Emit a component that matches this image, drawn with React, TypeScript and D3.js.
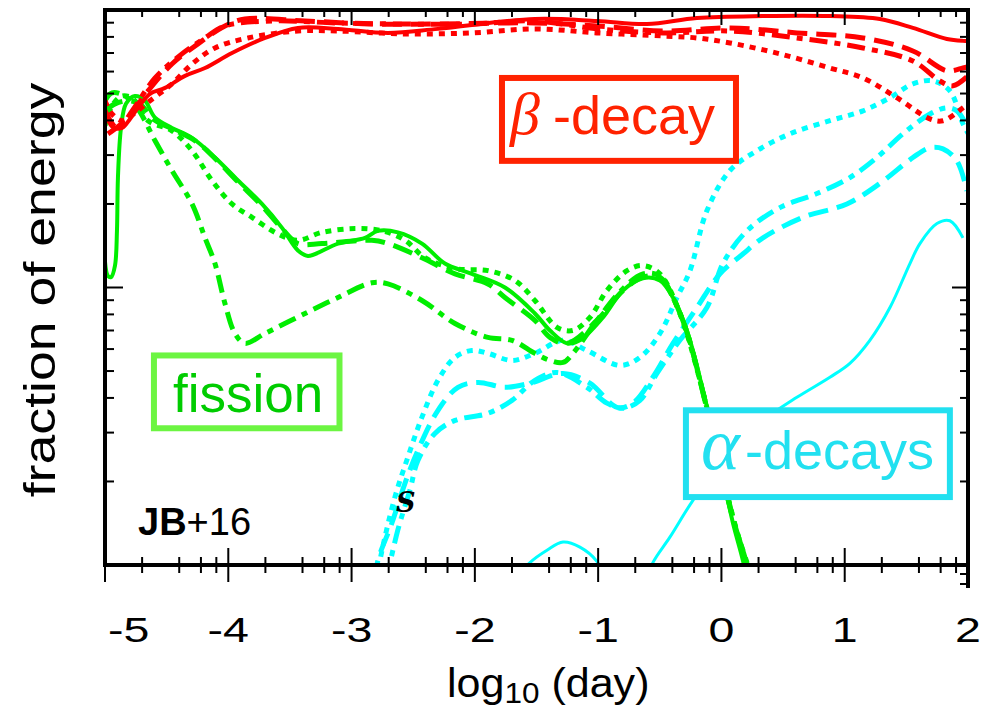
import React from 'react';
import * as d3 from 'd3';

const W = 983;
const H = 709;
const PLOT = { left: 105, right: 968, top: 10, bottom: 565 };

const X_DOMAIN = [-5, 2];
const Y_DOMAIN = [0.01, 1];
const X_MAJOR = [-5, -4, -3, -2, -1, 0, 1, 2];
const X_LABELS = ['-5', '-4', '-3', '-2', '-1', '0', '1', '2'];
const MINOR_MULT = [2, 4, 6, 8];
const Y_DECADES = [0.01, 0.1];
const Y_MAJOR_INNER = [0.1];

const RED = '#ff0000';
const GREEN = '#00ee00';
const CYAN = '#00ffff';

// [log10(day), fraction of energy]
const betaSolid = [
  [-4.98, 0.405], [-4.935, 0.378], [-4.862, 0.376], [-4.797, 0.405], [-4.716, 0.455],
  [-4.635, 0.499], [-4.513, 0.524], [-4.351, 0.579], [-4.189, 0.618], [-3.97, 0.7],
  [-3.702, 0.793], [-3.435, 0.862], [-3.11, 0.855], [-2.705, 0.827], [-2.299, 0.855],
  [-1.513, 0.928], [-1.01, 0.913], [-0.604, 0.89], [-0.199, 0.936], [0.337, 0.951],
  [0.88, 0.951], [1.285, 0.928], [1.553, 0.862], [1.829, 0.786], [1.959, 0.774], [2.0, 0.774],
];
const betaDashed = [
  [-4.976, 0.358], [-4.838, 0.399], [-4.651, 0.511], [-4.457, 0.639], [-4.246, 0.755],
  [-4.027, 0.876], [-3.865, 0.928], [-3.378, 0.913], [-2.835, 0.89], [-2.299, 0.89],
  [-1.513, 0.898], [-1.01, 0.876], [-0.474, 0.84], [0.069, 0.862], [0.612, 0.827],
  [1.148, 0.793], [1.553, 0.712], [1.829, 0.604], [1.959, 0.618], [2.0, 0.625],
];
const betaDotted = [
  [-5.0, 0.471], [-4.943, 0.422], [-4.862, 0.399], [-4.757, 0.426], [-4.635, 0.471],
  [-4.457, 0.542], [-4.294, 0.639], [-4.108, 0.73], [-3.84, 0.793], [-3.435, 0.84],
  [-3.11, 0.84], [-2.567, 0.82], [-2.024, 0.827], [-1.513, 0.855], [-1.01, 0.827],
  [-0.474, 0.806], [-0.199, 0.793], [0.069, 0.761], [0.474, 0.695], [0.88, 0.618],
  [1.148, 0.569], [1.423, 0.483], [1.691, 0.405], [1.797, 0.399], [1.959, 0.444], [2.0, 0.46],
];
const betaDashDot = [
  [-5.0, 0.433], [-4.895, 0.373], [-4.78, 0.433], [-4.594, 0.569], [-4.376, 0.695],
  [-4.189, 0.793], [-4.027, 0.876], [-3.646, 0.913], [-3.11, 0.898], [-2.567, 0.89],
  [-2.024, 0.89], [-1.513, 0.913], [-1.01, 0.855], [-0.474, 0.827], [0.069, 0.84],
  [0.612, 0.793], [1.148, 0.73], [1.553, 0.655], [1.772, 0.555], [1.878, 0.533], [2.0, 0.579],
];

const fissionSolid = [
  [-5.0, 0.124], [-4.976, 0.11], [-4.951, 0.109], [-4.919, 0.12], [-4.903, 0.16],
  [-4.895, 0.249], [-4.87, 0.376], [-4.83, 0.459], [-4.757, 0.49], [-4.676, 0.471],
  [-4.594, 0.409], [-4.457, 0.376], [-4.294, 0.346], [-4.108, 0.294], [-3.921, 0.243],
  [-3.727, 0.2], [-3.564, 0.164], [-3.435, 0.136], [-3.354, 0.13], [-3.11, 0.144],
  [-2.891, 0.151], [-2.786, 0.16], [-2.624, 0.158], [-2.429, 0.144], [-2.243, 0.122],
  [-2.024, 0.112], [-1.756, 0.1], [-1.513, 0.0806], [-1.391, 0.07], [-1.253, 0.0629],
  [-1.148, 0.0645], [-0.961, 0.078], [-0.799, 0.0975], [-0.637, 0.108], [-0.499, 0.106],
  [-0.393, 0.092], [-0.28, 0.07], [-0.15, 0.0426], [-0.012, 0.0233], [0.093, 0.0142],
  [0.174, 0.0104], [0.23, 0.0079],
];
const fissionDotted = [
  [-5.0, 0.383], [-4.943, 0.452], [-4.862, 0.49], [-4.773, 0.479], [-4.651, 0.399],
  [-4.457, 0.367], [-4.294, 0.311], [-4.132, 0.243], [-3.97, 0.2], [-3.808, 0.179],
  [-3.597, 0.156], [-3.435, 0.148], [-3.24, 0.158], [-2.972, 0.163], [-2.753, 0.16],
  [-2.567, 0.148], [-2.405, 0.128], [-2.161, 0.117], [-1.894, 0.115], [-1.675, 0.106],
  [-1.513, 0.0898], [-1.334, 0.0718], [-1.204, 0.07], [-1.067, 0.078], [-0.929, 0.0975],
  [-0.766, 0.115], [-0.637, 0.12], [-0.499, 0.112], [-0.337, 0.0806], [-0.15, 0.042],
  [-0.012, 0.023], [0.11, 0.014], [0.199, 0.0102], [0.25, 0.0079],
];
const fissionDashed = [
  [-5.0, 0.433], [-4.919, 0.459], [-4.813, 0.471], [-4.716, 0.459], [-4.61, 0.405],
  [-4.457, 0.373], [-4.27, 0.338], [-4.108, 0.292], [-3.921, 0.24], [-3.727, 0.197],
  [-3.564, 0.163], [-3.435, 0.144], [-3.24, 0.144], [-2.835, 0.148], [-2.705, 0.144],
  [-2.429, 0.128], [-2.161, 0.112], [-1.894, 0.103], [-1.756, 0.092], [-1.513, 0.0761],
  [-1.391, 0.0661], [-1.253, 0.0629], [-1.01, 0.0761], [-0.799, 0.0975], [-0.637, 0.109],
  [-0.499, 0.109], [-0.393, 0.092], [-0.28, 0.069], [-0.15, 0.042], [-0.012, 0.023],
  [0.11, 0.0139], [0.207, 0.01], [0.25, 0.0079],
];
const fissionDashDot = [
  [-5.0, 0.471], [-4.943, 0.503], [-4.838, 0.49], [-4.733, 0.44], [-4.594, 0.338],
  [-4.457, 0.264], [-4.294, 0.2], [-4.189, 0.151], [-4.108, 0.122], [-4.027, 0.0876],
  [-3.946, 0.0683], [-3.865, 0.0629], [-3.702, 0.0683], [-3.378, 0.0806], [-3.11, 0.092],
  [-2.835, 0.104], [-2.705, 0.103], [-2.429, 0.0898], [-2.161, 0.0742], [-1.894, 0.0661],
  [-1.699, 0.0645], [-1.513, 0.0579], [-1.391, 0.0546], [-1.285, 0.0537], [-1.204, 0.0579],
  [-1.01, 0.0761], [-0.799, 0.099], [-0.637, 0.112], [-0.499, 0.11], [-0.393, 0.092],
  [-0.28, 0.069], [-0.15, 0.0418], [-0.012, 0.0228], [0.11, 0.0138], [0.215, 0.0099], [0.26, 0.0079],
];

const alphaSolidLow = [
  [-1.675, 0.0088], [-1.553, 0.0102], [-1.415, 0.0113], [-1.285, 0.0121],
  [-1.148, 0.0116], [-1.01, 0.0103], [-0.945, 0.0088],
];
const alphaSolid = [
  [-0.62, 0.0085], [-0.556, 0.0102], [-0.418, 0.0126], [-0.231, 0.0171], [0.069, 0.0259],
  [0.337, 0.0332], [0.612, 0.0402], [0.88, 0.0475], [1.042, 0.0533], [1.204, 0.0645],
  [1.367, 0.0847], [1.529, 0.122], [1.61, 0.144], [1.748, 0.17], [1.853, 0.174], [1.959, 0.151],
];
const alphaDotted = [
  [-2.8, 0.0088], [-2.753, 0.0113], [-2.648, 0.0176], [-2.543, 0.0245], [-2.429, 0.0341],
  [-2.299, 0.0463], [-2.161, 0.056], [-2.024, 0.0593], [-1.894, 0.0579], [-1.699, 0.0546],
  [-1.513, 0.0579], [-1.285, 0.0645], [-1.091, 0.0593], [-0.823, 0.0524], [-0.661, 0.056],
  [-0.499, 0.0683], [-0.361, 0.092], [-0.255, 0.115], [-0.118, 0.189], [0.069, 0.264],
  [0.288, 0.311], [0.556, 0.358], [0.88, 0.399], [1.148, 0.433], [1.367, 0.483],
  [1.553, 0.542], [1.715, 0.555], [1.853, 0.511], [1.959, 0.389], [2.0, 0.36],
];
const alphaDashed = [
  [-2.81, 0.0088], [-2.786, 0.0104], [-2.672, 0.0142], [-2.567, 0.0197], [-2.462, 0.0259],
  [-2.299, 0.0361], [-2.137, 0.0437], [-1.975, 0.0455], [-1.756, 0.0437], [-1.553, 0.0452],
  [-1.285, 0.049], [-1.067, 0.0452], [-0.847, 0.037], [-0.718, 0.0383], [-0.556, 0.0475],
  [-0.393, 0.0629], [-0.199, 0.0847], [-0.012, 0.112], [0.174, 0.132], [0.337, 0.151],
  [0.661, 0.179], [1.018, 0.2], [1.285, 0.237], [1.553, 0.294], [1.691, 0.319],
  [1.797, 0.316], [1.91, 0.286], [1.991, 0.223],
];
const alphaDashDot = [
  [-2.72, 0.0088], [-2.624, 0.0134], [-2.527, 0.0186], [-2.462, 0.0238], [-2.324, 0.0298],
  [-2.161, 0.0332], [-1.894, 0.0352], [-1.699, 0.0392], [-1.513, 0.0463], [-1.334, 0.0494],
  [-1.091, 0.0437], [-0.929, 0.0383], [-0.799, 0.0367], [-0.661, 0.0392], [-0.523, 0.049],
  [-0.337, 0.0645], [-0.118, 0.0847], [0.012, 0.122], [0.207, 0.16], [0.474, 0.194],
  [0.775, 0.218], [1.042, 0.249], [1.261, 0.294], [1.472, 0.358], [1.691, 0.422],
  [1.829, 0.444], [1.91, 0.433], [1.991, 0.383],
];

const DASH: Record<string, string | undefined> = {
  solid: undefined,
  dashed: '20 9',
  dotted: '6 6',
  dashdot: '18 7 6 7',
};

const SERIES = [
  { pts: alphaSolidLow, color: CYAN, style: 'solid', w: 3 },
  { pts: alphaSolid, color: CYAN, style: 'solid', w: 3 },
  { pts: alphaDotted, color: CYAN, style: 'dotted', w: 5 },
  { pts: alphaDashed, color: CYAN, style: 'dashed', w: 5 },
  { pts: alphaDashDot, color: CYAN, style: 'dashdot', w: 5 },
  { pts: fissionDashDot, color: GREEN, style: 'dashdot', w: 5 },
  { pts: fissionDashed, color: GREEN, style: 'dashed', w: 5 },
  { pts: fissionDotted, color: GREEN, style: 'dotted', w: 5 },
  { pts: fissionSolid, color: GREEN, style: 'solid', w: 4 },
  { pts: betaDashDot, color: RED, style: 'dashdot', w: 5 },
  { pts: betaDashed, color: RED, style: 'dashed', w: 5 },
  { pts: betaDotted, color: RED, style: 'dotted', w: 5 },
  { pts: betaSolid, color: RED, style: 'solid', w: 4 },
];

// label boxes in data units: [x0, x1] log10(day), [yTop, yBottom] fraction
const BETA_BOX = { x0: -1.78, x1: 0.118, yt: 0.569, yb: 0.286 };
const FISSION_BOX = { x0: -4.603, x1: -3.098, yt: 0.0569, yb: 0.0311 };
const ALPHA_BOX = { x0: -0.288, x1: 1.853, yt: 0.0361, yb: 0.01757 };
const JB_POS = [-4.732, 0.0128];
const S_POS = [-2.64, 0.0155];

const SANS = '"Liberation Sans", Arial, Helvetica, sans-serif';
const SERIF = '"DejaVu Serif", "Liberation Serif", serif';

export default function App() {
  const x = d3.scaleLinear().domain(X_DOMAIN).range([PLOT.left, PLOT.right]);
  const y = d3.scaleLog().domain(Y_DOMAIN).range([PLOT.bottom, PLOT.top]);
  const line = d3
    .line<number[]>()
    .x((d) => x(d[0]))
    .y((d) => y(d[1]))
    .curve(d3.curveCatmullRom.alpha(0.5));

  const xMinor: number[] = [];
  X_MAJOR.slice(0, -1).forEach((v) => MINOR_MULT.forEach((m) => xMinor.push(v + Math.log10(m))));
  const yMinor: number[] = [];
  Y_DECADES.forEach((d) => d3.range(2, 10).forEach((k) => yMinor.push(d * k)));

  const box = (b: typeof BETA_BOX) => ({
    x: x(b.x0),
    y: y(b.yt),
    w: x(b.x1) - x(b.x0),
    h: y(b.yb) - y(b.yt),
  });
  const bb = box(BETA_BOX);
  const fb = box(FISSION_BOX);
  const ab = box(ALPHA_BOX);

  return (
    <svg
      width={W}
      height={H}
      style={{ position: 'absolute', left: 0, top: 0, background: '#fff' }}
      fontFamily={SANS}
    >
      <defs>
        <clipPath id="plotClip">
          <rect x={PLOT.left} y={PLOT.top} width={PLOT.right - PLOT.left} height={PLOT.bottom - PLOT.top} />
        </clipPath>
      </defs>

      <g clipPath="url(#plotClip)">
        {SERIES.map((s, i) => (
          <path
            key={i}
            d={line(s.pts) || ''}
            fill="none"
            stroke={s.color}
            strokeWidth={s.w}
            strokeDasharray={DASH[s.style]}
            strokeLinejoin="round"
          />
        ))}
      </g>

      {/* label boxes */}
      <rect x={bb.x} y={bb.y} width={bb.w} height={bb.h} fill="#fff" stroke="#ff2200" strokeWidth={6} />
      <text x={bb.x + 8} y={bb.y + 56} fill="#ff2200" fontFamily="Liberation Serif, serif" fontStyle="italic" fontSize={60}>β</text>
      <text x={bb.x + 51} y={bb.y + 56} fill="#ff2200" fontSize={54}>-decay</text>

      <rect x={fb.x} y={fb.y} width={fb.w} height={fb.h} fill="#fff" stroke="#6cf542" strokeWidth={6} />
      <text x={fb.x + 19} y={fb.y + 57} fill="#00cc00" fontSize={53}>fission</text>

      <rect x={ab.x} y={ab.y} width={ab.w} height={ab.h} fill="#fff" stroke="#22e0f0" strokeWidth={6} />
      <text x={ab.x + 15} y={ab.y + 59} fill="#22e0f0" fontFamily="Liberation Serif, serif" fontStyle="italic" fontSize={74}>α</text>
      <text x={ab.x + 59} y={ab.y + 59} fill="#22e0f0" fontSize={54}>-decays</text>

      <text x={x(JB_POS[0])} y={y(JB_POS[1])} fontSize={38} fill="#000">
        <tspan fontWeight="bold">JB</tspan>
        <tspan>+16</tspan>
      </text>
      <text x={x(S_POS[0])} y={y(S_POS[1])} fontSize={27} fontWeight="bold" fontStyle="italic" fontFamily={SERIF} fill="#000">S</text>

      {/* ticks */}
      <g stroke="#000" strokeWidth={2}>
        {X_MAJOR.map((v) => (
          <g key={'xm' + v}>
            <line x1={x(v)} x2={x(v)} y1={PLOT.bottom - 17} y2={PLOT.bottom + 17} />
            <line x1={x(v)} x2={x(v)} y1={PLOT.top} y2={PLOT.top + 15} />
          </g>
        ))}
        {xMinor.map((v) => (
          <g key={'xn' + v}>
            <line x1={x(v)} x2={x(v)} y1={PLOT.bottom - 8} y2={PLOT.bottom + 8} />
            <line x1={x(v)} x2={x(v)} y1={PLOT.top} y2={PLOT.top + 7} />
          </g>
        ))}
        {Y_MAJOR_INNER.map((v) => (
          <g key={'ym' + v}>
            <line x1={PLOT.left} x2={PLOT.left + 18} y1={y(v)} y2={y(v)} />
            <line x1={PLOT.right - 16} x2={PLOT.right} y1={y(v)} y2={y(v)} />
          </g>
        ))}
        {yMinor.map((v) => (
          <g key={'yn' + v}>
            <line x1={PLOT.left} x2={PLOT.left + 9} y1={y(v)} y2={y(v)} />
            <line x1={PLOT.right - 8} x2={PLOT.right} y1={y(v)} y2={y(v)} />
          </g>
        ))}
        {/* right axis runs a little past the bottom edge */}
        <line x1={PLOT.right} x2={PLOT.right} y1={PLOT.bottom} y2={PLOT.bottom + 23} strokeWidth={4} />
        <line x1={PLOT.right - 8} x2={PLOT.right} y1={PLOT.bottom + 9} y2={PLOT.bottom + 9} />
        <line x1={PLOT.right - 8} x2={PLOT.right} y1={PLOT.bottom + 19} y2={PLOT.bottom + 19} />
      </g>

      {/* frame */}
      <rect
        x={PLOT.left}
        y={PLOT.top}
        width={PLOT.right - PLOT.left}
        height={PLOT.bottom - PLOT.top}
        fill="none"
        stroke="#000"
        strokeWidth={4}
      />

      {/* tick labels */}
      {X_MAJOR.map((v, i) => {
        const first = i === 0;
        const tx = first ? x(v) + 3 : x(v);
        return (
          <text
            key={'xl' + v}
            transform={`translate(${tx},642) scale(1.33,1)`}
            textAnchor={first ? 'start' : 'middle'}
            fontSize={35}
            fill="#000"
          >
            {X_LABELS[i]}
          </text>
        );
      })}

      {/* axis titles */}
      <text transform="translate(447,697) scale(1.05,1)" fontSize={41} fill="#000">
        log
        <tspan fontSize={30} dy={6}>10</tspan>
        <tspan dy={-6}> (day)</tspan>
      </text>
      <text
        transform="translate(55,290) rotate(-90) scale(1.22,1)"
        textAnchor="middle"
        fontSize={44}
        fill="#000"
      >
        fraction of energy
      </text>
    </svg>
  );
}
